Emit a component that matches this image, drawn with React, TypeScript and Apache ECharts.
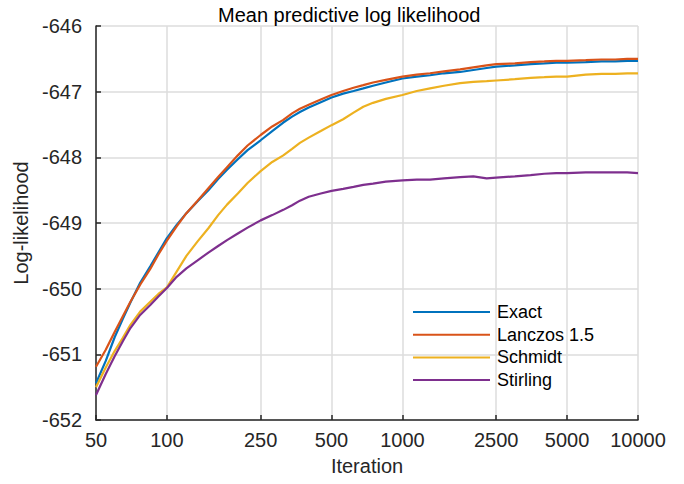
import React, { useEffect, useRef } from "react";
import * as echarts from "echarts";

const iterations = [50, 55, 60, 65, 70, 77, 85, 92, 100, 110, 121, 135, 150, 165, 180, 200, 220, 250, 280, 312, 340, 367, 400, 450, 500, 560, 620, 682, 750, 850, 1000, 1150, 1310, 1500, 1757, 2000, 2278, 2500, 3000, 3500, 4000, 4500, 5000, 6000, 7000, 8000, 9000, 10000];

const exact = [-651.44, -651.1, -650.74, -650.46, -650.21, -649.91, -649.66, -649.45, -649.23, -649.03, -648.85, -648.67, -648.5, -648.33, -648.19, -648.03, -647.89, -647.74, -647.6, -647.47, -647.38, -647.31, -647.24, -647.16, -647.09, -647.03, -646.99, -646.95, -646.91, -646.86, -646.8, -646.77, -646.75, -646.72, -646.7, -646.67, -646.64, -646.62, -646.6, -646.58, -646.57, -646.56, -646.56, -646.55, -646.54, -646.54, -646.53, -646.53];

const lanczos = [-651.19, -650.93, -650.66, -650.42, -650.2, -649.94, -649.7, -649.48, -649.27, -649.05, -648.85, -648.66, -648.47, -648.3, -648.15, -647.97, -647.82, -647.66, -647.53, -647.43, -647.33, -647.26, -647.2, -647.12, -647.05, -646.99, -646.94, -646.9, -646.86, -646.82, -646.77, -646.74, -646.72, -646.69, -646.66, -646.63, -646.6, -646.58, -646.57, -646.55, -646.54, -646.53, -646.53, -646.52, -646.51, -646.51, -646.5, -646.5];

const schmidt = [-651.5, -651.2, -650.95, -650.75, -650.55, -650.35, -650.2, -650.08, -649.98, -649.74, -649.5, -649.28, -649.08, -648.88, -648.72, -648.55, -648.39, -648.21, -648.07, -647.97, -647.87, -647.78, -647.7, -647.6, -647.51, -647.42, -647.32, -647.23, -647.17, -647.11, -647.05, -646.99, -646.95, -646.91, -646.87, -646.85, -646.84, -646.83, -646.81, -646.79, -646.78, -646.77, -646.77, -646.74, -646.73, -646.73, -646.72, -646.72];

const stirling = [-651.62, -651.3, -651.03, -650.8, -650.6, -650.4, -650.25, -650.12, -649.99, -649.82, -649.69, -649.57, -649.45, -649.35, -649.26, -649.16, -649.07, -648.96, -648.88, -648.8, -648.73, -648.66, -648.6, -648.55, -648.51, -648.48, -648.45, -648.42, -648.4, -648.37, -648.35, -648.34, -648.34, -648.32, -648.3, -648.29, -648.32, -648.31, -648.29, -648.27, -648.25, -648.24, -648.24, -648.23, -648.23, -648.23, -648.23, -648.24];

const xTicks = [50, 100, 250, 500, 1000, 2500, 5000, 10000];
const seriesNames = ["Exact", "Lanczos 1.5", "Schmidt", "Stirling"];
const seriesColors = ["#0072BD", "#D95319", "#EDB120", "#7E2F8E"];
const seriesValues = [exact, lanczos, schmidt, stirling];

const FONT = "'Liberation Sans', Arial, Helvetica, sans-serif";
const AXIS_COLOR = "#262626";
const GRID_COLOR = "#dcdcdc";

export default function App() {
  const ref = useRef<HTMLDivElement>(null);

  useEffect(() => {
    if (!ref.current) return;
    const chart = echarts.init(ref.current, undefined, { renderer: "svg" });
    const option: any = {
      animation: false,
      backgroundColor: "#ffffff",
      textStyle: { fontFamily: FONT },
      title: {
        text: "Mean predictive log likelihood",
        left: 213,
        top: 0,
        textStyle: { fontFamily: FONT, fontSize: 20, fontWeight: "normal", color: "#000000" },
      },
      grid: { left: 96, right: 46, top: 26, bottom: 64, containLabel: false },
      legend: {
        orient: "vertical",
        left: 413,
        top: 303,
        padding: 0,
        itemGap: 4.7,
        itemWidth: 77,
        itemHeight: 2,
        icon: "rect",
        data: seriesNames,
        textStyle: { fontFamily: FONT, fontSize: 18, color: "#000000", lineHeight: 18, padding: [0, 0, 0, 2] },
      },
      xAxis: {
        type: "log",
        logBase: 10,
        min: 50,
        max: 10000,
        name: "Iteration",
        nameLocation: "middle",
        nameGap: 36,
        nameTextStyle: { fontFamily: FONT, fontSize: 20, color: AXIS_COLOR },
        axisLine: { show: true, lineStyle: { color: AXIS_COLOR, width: 1.5 } },
        axisTick: { show: true, inside: true, length: 5, lineStyle: { color: AXIS_COLOR, width: 1.5 }, customValues: xTicks },
        axisLabel: { fontFamily: FONT, fontSize: 20, color: AXIS_COLOR, margin: 10, customValues: xTicks, formatter: (v: number) => String(Math.round(v)) },
        splitLine: { show: true, lineStyle: { color: GRID_COLOR, width: 1.5 } },
        minorTick: { show: false },
      },
      yAxis: {
        type: "value",
        min: -652,
        max: -646,
        interval: 1,
        name: "Log-likelihood",
        nameLocation: "middle",
        nameGap: 62,
        nameTextStyle: { fontFamily: FONT, fontSize: 20, color: AXIS_COLOR },
        axisLine: { show: true, lineStyle: { color: AXIS_COLOR, width: 1.5 } },
        axisTick: { show: true, inside: true, length: 5, lineStyle: { color: AXIS_COLOR, width: 1.5 } },
        axisLabel: { fontFamily: FONT, fontSize: 20, color: AXIS_COLOR, margin: 14 },
        splitLine: { show: true, lineStyle: { color: GRID_COLOR, width: 1.5 } },
      },
      series: seriesNames.map((name, i) => ({
        name,
        type: "line",
        data: iterations.map((x, j) => [x, seriesValues[i][j]]),
        showSymbol: false,
        symbol: "none",
        lineStyle: { width: 2.2, color: seriesColors[i] },
        itemStyle: { color: seriesColors[i] },
        z: 2 + i,
      })),
    };
    chart.setOption(option);
    return () => chart.dispose();
  }, []);

  return <div ref={ref} style={{ width: 684, height: 484, position: "absolute", left: 0, top: 0 }} />;
}
